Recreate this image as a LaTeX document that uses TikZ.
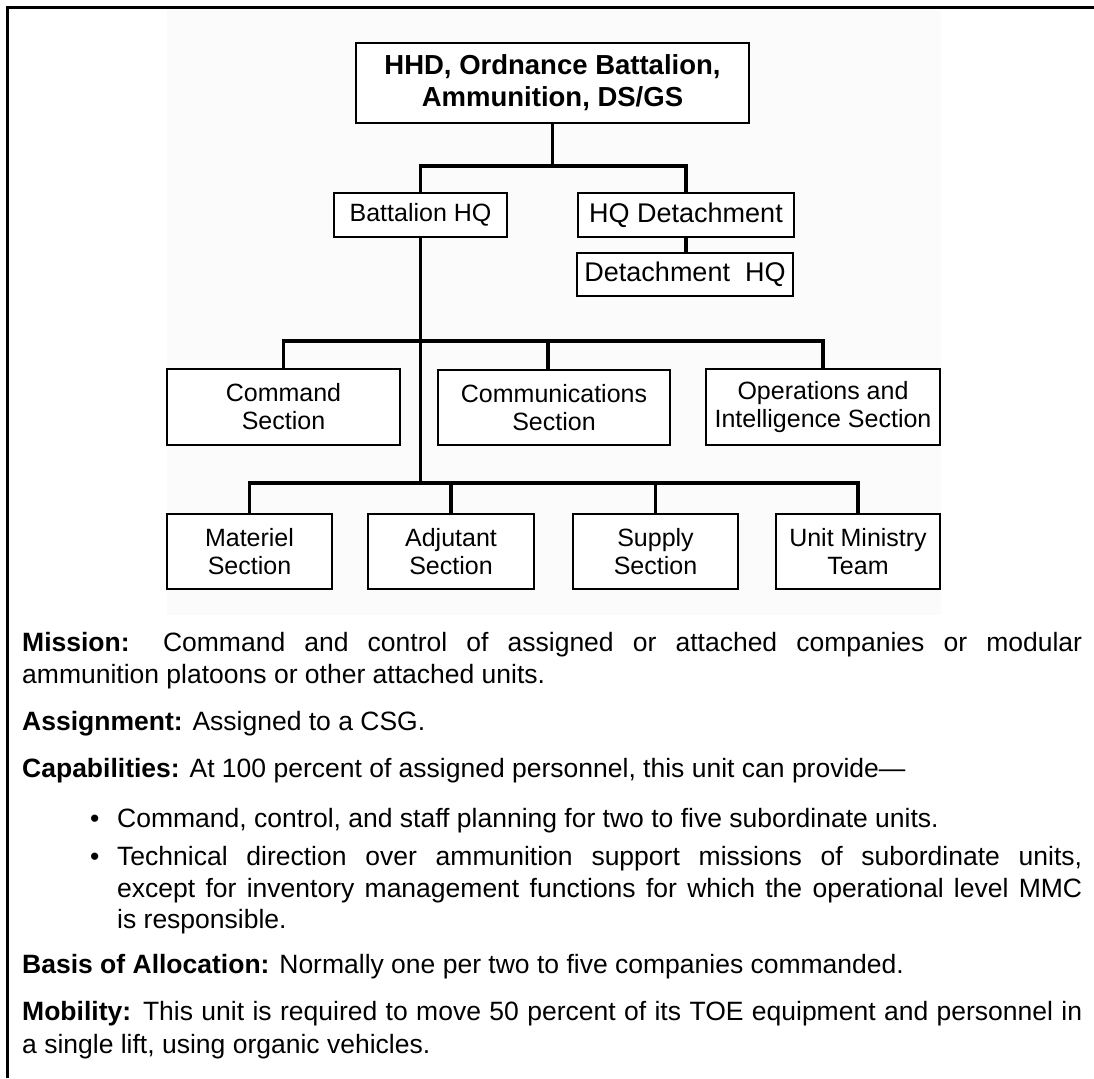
\documentclass[tikz,border=0pt]{standalone}
\usepackage{fontspec}
\setmainfont{Liberation Sans}
\usetikzlibrary{calc}
\definecolor{chartbg}{RGB}{251,251,251}
\begin{document}
\begin{tikzpicture}[x=1pt,y=-1pt,
  orgbox/.style={draw, line width=1.6pt, inner sep=0pt, align=center, fill=white},
  secbox/.style={orgbox, font=\fontsize{25}{28}\selectfont},
  link/.style={line width=3.2pt, line cap=rect, line join=miter},
  bodyline/.style={anchor=base west, inner sep=0pt, font=\fontsize{26.5}{32}\selectfont},
  frameline/.style={line width=3.5pt, line join=miter}]
\useasboundingbox (0,0) rectangle (1094,1078);

% chart backdrop and page frame
\fill[chartbg] (167,10) rectangle (941,615);
\draw[frameline] (1094,7.5) -- (7.5,7.5) -- (7.5,1078);

% organisation chart
\node[orgbox, minimum width=393pt, minimum height=80pt,
      font=\fontsize{27.5}{32}\selectfont\bfseries] (hhd) at (552.5,83)
      {HHD, Ordnance Battalion,\\Ammunition, DS/GS};
\node[orgbox, minimum width=173pt, minimum height=44pt,
      font=\fontsize{25}{28}\selectfont] (bhq) at (420.5,215) {Battalion HQ};
\node[orgbox, minimum width=216pt, minimum height=44pt,
      font=\fontsize{27}{30}\selectfont] (hqd) at (686,215) {HQ Detachment};
\node[orgbox, minimum width=216pt, minimum height=43pt,
      font=\fontsize{27}{30}\selectfont] (dhq) at (685,274.5) {Detachment\ \ HQ};

\node[secbox, minimum width=233pt, minimum height=76pt] (cmd) at (283.5,407) {Command\\Section};
\node[secbox, minimum width=232pt, minimum height=75pt] (com) at (554,407.5) {Communications\\Section};
\node[secbox, minimum width=234pt, minimum height=76pt] (ops) at (823,407) {Operations and\\Intelligence Section};

\node[secbox, minimum width=165pt, minimum height=75pt] (mat) at (249.5,551.5) {Materiel\\Section};
\node[secbox, minimum width=166pt, minimum height=75pt] (adj) at (451,551.5) {Adjutant\\Section};
\node[secbox, minimum width=165pt, minimum height=75pt] (sup) at (655.5,551.5) {Supply\\Section};
\node[secbox, minimum width=164pt, minimum height=75pt] (umt) at (858,551.5) {Unit Ministry\\Team};

% bus levels
\coordinate (tbar) at (0,166);
\coordinate (ubar) at (0,341);
\coordinate (lbar) at (0,483);
\coordinate (comtop) at ($(com.north)+(-6,0)$);

\draw[link] (hhd.south) -- (hhd.south |- tbar);
\draw[link] (bhq.north) -- (bhq.north |- tbar) -- (hqd.north |- tbar) -- (hqd.north);
\draw[link] (hqd.south) -- (hqd.south |- dhq.north);
\draw[link] (bhq.south) -- (bhq.south |- lbar);
\draw[link] (cmd.north) -- (cmd.north |- ubar) -- (ops.north |- ubar) -- (ops.north);
\draw[link] (comtop) -- (comtop |- ubar);
\draw[link] (mat.north) -- (mat.north |- lbar) -- (umt.north |- lbar) -- (umt.north);
\draw[link] (adj.north) -- (adj.north |- lbar);
\draw[link] (sup.north) -- (sup.north |- lbar);

% description text
\node[bodyline] (m1) at (22,651) {\makebox[1060pt][s]{\textbf{Mission:} Command and control of assigned or attached companies or modular}};
\node[bodyline] (m2) at (22,683) {ammunition platoons or other attached units.};
\node[bodyline] (as) at (22,730) {\textbf{Assignment:} Assigned to a CSG.};
\node[bodyline] (cp) at (22,777) {\textbf{Capabilities:} At 100 percent of assigned personnel, this unit can provide—};
\node[bodyline] (d1) at (90,827) {•};
\node[bodyline] (c1) at (117,827) {Command, control, and staff planning for two to five subordinate units.};
\node[bodyline] (d2) at (90,865) {•};
\node[bodyline] (c2a) at (117,865) {\makebox[965pt][s]{Technical direction over ammunition support missions of subordinate units,}};
\node[bodyline] (c2b) at (117,897) {\makebox[965pt][s]{except for inventory management functions for which the operational level MMC}};
\node[bodyline] (c2c) at (117,928) {is responsible.};
\node[bodyline] (ba) at (22,973) {\textbf{Basis of Allocation:} Normally one per two to five companies commanded.};
\node[bodyline] (mo1) at (22,1020) {\makebox[1060pt][s]{\textbf{Mobility:} This unit is required to move 50 percent of its TOE equipment and personnel in}};
\node[bodyline] (mo2) at (22,1053) {a single lift, using organic vehicles.};
\end{tikzpicture}
\end{document}
